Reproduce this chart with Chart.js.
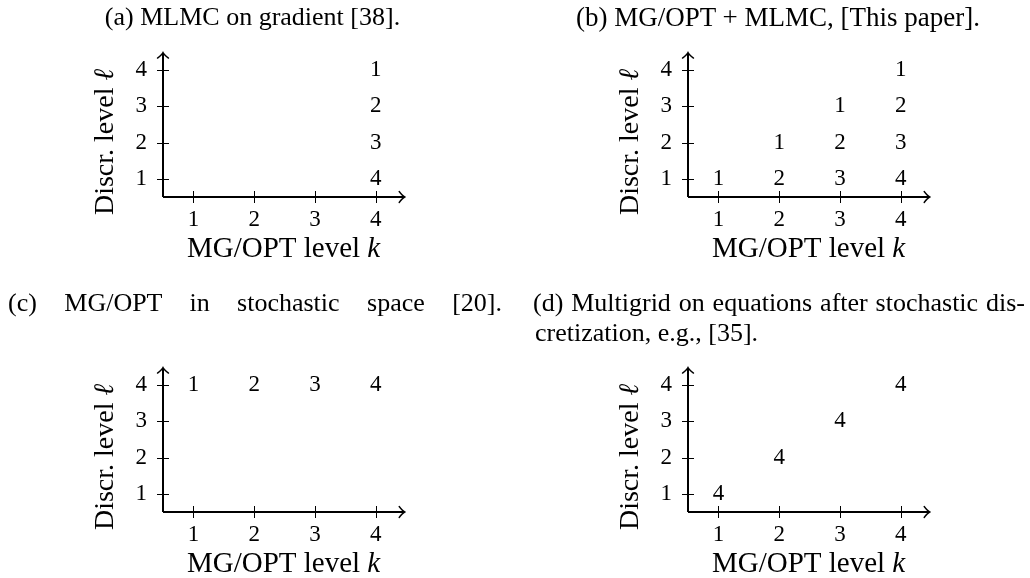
<!DOCTYPE html>
<html>
<head>
<meta charset="utf-8">
<script src="https://cdn.jsdelivr.net/npm/chart.js@4"></script>
<style>
  body { margin: 0; background: #fff; }
  #page { position: relative; width: 1030px; height: 578px; overflow: hidden; font-family: "Liberation Serif", serif; color: #000; }
  canvas { position: absolute; }
  .cap { position: absolute; font-size: 26px; line-height: 30px; white-space: nowrap; }
  .just { text-align: justify; text-align-last: justify; }
</style>
</head>
<body>
<div id="page">
  <canvas id="ca" width="515" height="289" style="left:0;top:0"></canvas>
  <canvas id="cb" width="515" height="289" style="left:515px;top:0"></canvas>
  <canvas id="cc" width="515" height="289" style="left:0;top:289px"></canvas>
  <canvas id="cd" width="515" height="289" style="left:515px;top:289px"></canvas>

  <div class="cap" style="left:0;top:2px;width:505px;text-align:center">(a) MLMC on gradient [38].</div>
  <div class="cap" style="left:530px;top:2px;width:496px;text-align:center;font-size:27px">(b) MG/OPT + MLMC, [This paper].</div>
  <div class="cap just" style="left:8px;top:288px;width:494px">(c) MG/OPT in stochastic space [20].</div>
  <div class="cap" style="left:533px;top:288px;width:492px">
    <div class="just">(d) Multigrid on equations after stochastic dis-</div>
    <div style="padding-left:2px">cretization, e.g., [35].</div>
  </div>
</div>
<script>
const kTicks = [1, 2, 3, 4];
const lTicks = [1, 2, 3, 4];

// (a) MLMC on gradient
const aK = [4, 4, 4, 4];
const aL = [4, 3, 2, 1];
const aN = ['1', '2', '3', '4'];

// (b) MG/OPT + MLMC
const bK = [1, 2, 2, 3, 3, 3, 4, 4, 4, 4];
const bL = [1, 2, 1, 3, 2, 1, 4, 3, 2, 1];
const bN = ['1', '1', '2', '1', '2', '3', '1', '2', '3', '4'];

// (c) MG/OPT in stochastic space
const cK = [1, 2, 3, 4];
const cL = [4, 4, 4, 4];
const cN = ['1', '2', '3', '4'];

// (d) Multigrid after stochastic discretization
const dK = [1, 2, 3, 4];
const dL = [1, 2, 3, 4];
const dN = ['4', '4', '4', '4'];

const FONT = '"Liberation Serif", serif';
const tickFont = { family: FONT, size: 23 };
const axisTip = 4.47;

function drawParts(ctx, parts, size, cx, cy, rot) {
    ctx.save();
    ctx.translate(cx, cy);
    ctx.rotate(rot);
    let w = 0;
    parts.forEach(p => {
        ctx.font = (p.it ? 'italic ' : '') + size + 'px ' + FONT;
        p.w = ctx.measureText(p.t).width;
        w += p.w;
    });
    let x = -w / 2;
    ctx.textAlign = 'left';
    ctx.textBaseline = 'alphabetic';
    parts.forEach(p => {
        ctx.font = (p.it ? 'italic ' : '') + size + 'px ' + FONT;
        ctx.fillText(p.t, x, 0);
        x += p.w;
    });
    ctx.restore();
}

// axes with arrows, crossing tick marks, number labels and axis titles
const sketchAxes = {
    id: 'sketchAxes',
    afterDatasetsDraw(chart) {
        const { ctx, chartArea: ca, scales: { x, y } } = chart;
        const x0 = ca.left, y0 = ca.bottom;
        const tipX = x.getPixelForValue(axisTip);
        const tipY = y.getPixelForValue(axisTip);
        ctx.save();
        ctx.strokeStyle = '#000';
        ctx.fillStyle = '#000';

        ctx.lineWidth = 1;
        ctx.beginPath();
        kTicks.forEach(v => {
            const px = Math.round(x.getPixelForValue(v)) + 0.5;
            ctx.moveTo(px, y0 - 6);
            ctx.lineTo(px, y0 + 6);
        });
        lTicks.forEach(v => {
            const py = Math.round(y.getPixelForValue(v)) + 0.5;
            ctx.moveTo(x0 - 6, py);
            ctx.lineTo(x0 + 6, py);
        });
        ctx.stroke();

        ctx.lineWidth = 2;
        ctx.beginPath();
        ctx.moveTo(x0, y0);
        ctx.lineTo(tipX, y0);
        ctx.moveTo(x0, y0);
        ctx.lineTo(x0, tipY);
        ctx.stroke();

        ctx.lineWidth = 1.4;
        ctx.lineCap = 'round';
        ctx.beginPath();
        ctx.moveTo(tipX - 5, y0 - 5.5);
        ctx.quadraticCurveTo(tipX - 1.5, y0 - 1, tipX + 0.5, y0);
        ctx.quadraticCurveTo(tipX - 1.5, y0 + 1, tipX - 5, y0 + 5.5);
        ctx.moveTo(x0 - 5.5, tipY + 5);
        ctx.quadraticCurveTo(x0 - 1, tipY + 1.5, x0, tipY - 0.5);
        ctx.quadraticCurveTo(x0 + 1, tipY + 1.5, x0 + 5.5, tipY + 5);
        ctx.stroke();

        const ds = chart.data.datasets[0];
        const meta = chart.getDatasetMeta(0);
        ctx.font = tickFont.size + 'px ' + FONT;
        ctx.textAlign = 'center';
        ctx.textBaseline = 'middle';
        meta.data.forEach((pt, i) => ctx.fillText(ds.names[i], pt.x, pt.y));

        drawParts(ctx, [{ t: 'MG/OPT level ' }, { t: 'k', it: true }], 29,
            (ca.left + tipX) / 2, y0 + 60, 0);
        drawParts(ctx, [{ t: 'Discr. level ' }, { t: 'ℓ', it: true }], 28,
            x0 - 50, y0 - 55, -Math.PI / 2);
        ctx.restore();
    }
};

function makeChart(id, ks, ls, names, box) {
    const ctx = document.getElementById(id).getContext('2d');
    return new Chart(ctx, {
        type: 'scatter',
        data: {
            datasets: [{
                data: ks.map((k, i) => ({ x: k, y: ls[i] })),
                names: names,
                pointRadius: 0,
                showLine: false
            }]
        },
        options: {
            responsive: false,
            animation: false,
            events: [],
            layout: { padding: { left: 0, top: box.top, right: 515 - box.right, bottom: 0 } },
            plugins: { legend: { display: false }, tooltip: { enabled: false } },
            scales: {
                x: {
                    type: 'linear', min: 0.5, max: 4.5,
                    afterBuildTicks: s => { s.ticks = kTicks.map(v => ({ value: v })); },
                    afterFit: s => { s.height = 289 - box.bottom; },
                    ticks: { font: tickFont, color: '#000', padding: 9 },
                    grid: { display: false, drawTicks: false },
                    border: { display: false }
                },
                y: {
                    type: 'linear', min: 0.5, max: 4.5,
                    afterBuildTicks: s => { s.ticks = lTicks.map(v => ({ value: v })); },
                    afterFit: s => { s.width = box.left; },
                    ticks: { font: tickFont, color: '#000', padding: 16 },
                    grid: { display: false, drawTicks: false },
                    border: { display: false }
                }
            }
        },
        plugins: [sketchAxes]
    });
}

makeChart('ca', aK, aL, aN, { left: 163, top: 52, right: 406, bottom: 197 });
makeChart('cb', bK, bL, bN, { left: 173, top: 52, right: 416, bottom: 197 });
makeChart('cc', cK, cL, cN, { left: 163, top: 78, right: 406, bottom: 223 });
makeChart('cd', dK, dL, dN, { left: 173, top: 78, right: 416, bottom: 223 });
</script>
</body>
</html>
